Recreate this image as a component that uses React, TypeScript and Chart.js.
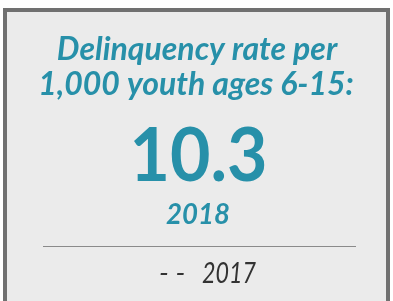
import React, { useEffect, useRef } from "react";
import { Chart, registerables } from "chart.js";

Chart.register(...registerables);

// ---- Data ----
const titleLines = ["Delinquency rate per", "1,000 youth ages 6-15:"];
const years = ["2018", "2017"];
const rates: (number | null)[] = [10.3, null];

const TEAL = "#2790a9";
const FONT = "Lato, 'Open Sans', sans-serif";

const kpiPlugin = {
  id: "kpiCard",
  beforeDraw(chart: any) {
    const ctx = chart.ctx as CanvasRenderingContext2D;
    const w = chart.width;
    const h = chart.height;
    ctx.save();
    ctx.fillStyle = "#ffffff";
    ctx.fillRect(0, 0, w, h);
    ctx.fillStyle = "#ebebeb";
    ctx.fillRect(5, 10, 383, h);
    ctx.strokeStyle = "#707070";
    ctx.lineWidth = 4;
    ctx.strokeRect(5, 10, 383, h + 10);
    ctx.restore();
  },
  afterDraw(chart: any) {
    const ctx = chart.ctx as CanvasRenderingContext2D;
    const labels = chart.data.labels as string[];
    const values = chart.data.datasets[0].data as (number | null)[];
    ctx.save();
    ctx.textBaseline = "alphabetic";

    // heading
    ctx.fillStyle = TEAL;
    ctx.textAlign = "center";
    ctx.font = `italic bold 32px ${FONT}`;
    ctx.fillText(titleLines[0], 197, 59.5, 290);
    ctx.fillText(titleLines[1], 196, 95, 322);

    // current value
    const cur = values[0];
    ctx.font = `bold 74px ${FONT}`;
    ctx.fillText(cur == null ? "- -" : cur.toFixed(1), 198.5, 181, 138);

    // current year
    ctx.font = `italic bold 29px ${FONT}`;
    ctx.fillText(labels[0], 198, 224, 64);

    // divider
    ctx.strokeStyle = "#8a8a8a";
    ctx.lineWidth = 1;
    ctx.beginPath();
    ctx.moveTo(43, 246.5);
    ctx.lineTo(356, 246.5);
    ctx.stroke();

    // previous
    const prev = values[1];
    ctx.fillStyle = "#333333";
    ctx.textAlign = "left";
    ctx.font = `italic 28px ${FONT}`;
    ctx.fillText(prev == null ? "- -" : prev.toFixed(1), 159, 283);
    ctx.fillText(labels[1], 202, 283, 54);
    ctx.restore();
  },
};

export default function App() {
  const ref = useRef<HTMLCanvasElement | null>(null);
  useEffect(() => {
    document.body.style.margin = "0";
    if (!ref.current) return;
    const chart = new Chart(ref.current, {
      type: "bar",
      data: {
        labels: years,
        datasets: [{ data: rates as any, backgroundColor: "rgba(0,0,0,0)" }],
      },
      options: {
        responsive: false,
        animation: false,
        plugins: {
          legend: { display: false },
          tooltip: { enabled: false },
          title: { display: false },
        },
        scales: {
          x: { display: false },
          y: { display: false },
        },
      },
      plugins: [kpiPlugin],
    });
    return () => chart.destroy();
  }, []);
  return (
    <div style={{ width: 393, height: 301 }}>
      <canvas ref={ref} width={393} height={301} style={{ display: "block" }} />
    </div>
  );
}
